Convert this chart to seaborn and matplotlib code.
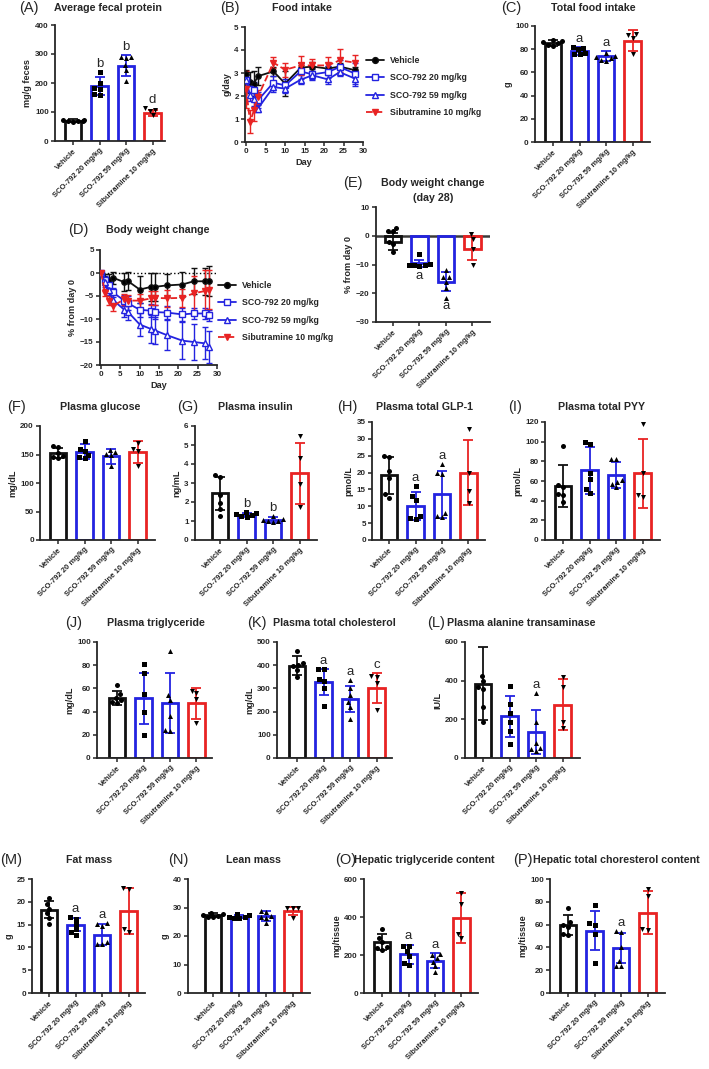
import numpy as np
import pandas as pd
import matplotlib
matplotlib.use("Agg")
import matplotlib.pyplot as plt
import seaborn as sns
from matplotlib.lines import Line2D

W, H, DPI = 709, 1069, 100

groups = ["Vehicle", "SCO-792 20 mg/kg", "SCO-792 59 mg/kg", "Sibutramine 10 mg/kg"]
colors = ["#111111", "#2323E0", "#2323E0", "#E82323"]
markers = ["o", "s", "^", "v"]

# (A) Average fecal protein
fecal_mean = [70, 188, 260, 96]
fecal_sd = [5, 31, 35, 10]
fecal_pts = [[65, 72, 70, 68, 73, 70], [239, 200, 182, 178, 162, 160],
             [288, 289, 286, 262, 245, 207], [113, 108, 105, 90]]
fecal_letters = ["", "b", "b", "d"]

# (B) Food intake
fi_days = [0, 1, 2, 3, 7, 10, 14, 17, 21, 24, 28]
veh_fi = [2.94, 2.6, 2.54, 2.86, 3.07, 2.54, 3.23, 3.28, 3.19, 3.28, 3.12]
veh_fi_sd = [0.2, 0.45, 0.55, 0.4, 0.2, 0.55, 0.2, 0.2, 0.1, 0.15, 0.15]
s20_fi = [2.71, 2.32, 2.25, 1.81, 2.58, 2.46, 3.07, 2.94, 3.04, 3.26, 2.97]
s20_fi_sd = [0.2, 0.35, 0.35, 0.35, 0.3, 0.3, 0.35, 0.25, 0.25, 0.3, 0.45]
s59_fi = [2.7, 2.03, 1.87, 1.45, 2.39, 2.32, 2.71, 2.9, 2.72, 3.04, 2.75]
s59_fi_sd = [0.2, 0.25, 0.3, 0.15, 0.2, 0.2, 0.2, 0.15, 0.2, 0.15, 0.3]
sib_fi = [2.3, 0.87, 1.38, 1.96, 3.45, 3.14, 3.33, 3.33, 3.33, 3.55, 3.45]
sib_fi_sd = [0.8, 0.5, 0.45, 0.3, 0.25, 0.3, 0.4, 0.3, 0.35, 0.5, 0.35]

# (C) Total food intake
tfi_mean = [85.5, 78.5, 74, 87.5]
tfi_sd = [2.5, 3.5, 4.5, 9]
tfi_pts = [[88, 87, 86, 85, 84, 83], [82, 81, 80, 77, 76, 76],
           [77, 74, 73, 72, 71, 70], [93, 92, 90, 76]]
tfi_letters = ["", "a", "a", ""]

# (D) Body weight change
bw_days = [0, 1, 2, 3, 6, 7, 10, 13, 14, 17, 21, 24, 27, 28]
veh_bw = [0, -1.2, -1.6, -1.0, -2.0, -1.8, -3.6, -3.0, -3.0, -2.7, -2.5, -1.8, -1.8, -1.7]
veh_bw_sd = [0, 1.0, 1.3, 1.3, 2.0, 2.0, 3.0, 3.1, 3.1, 2.5, 2.8, 2.8, 2.9, 3.3]
s20_bw = [0, -1.5, -2.6, -4.2, -6.0, -6.6, -8.0, -8.2, -8.5, -8.6, -9.0, -8.8, -8.8, -9.2]
s20_bw_sd = [0, 0.8, 1.0, 1.0, 1.2, 1.5, 1.5, 1.4, 1.5, 1.4, 1.5, 1.3, 1.3, 1.2]
s59_bw = [0, -2.0, -3.6, -5.8, -8.0, -8.5, -11.2, -12.2, -12.5, -13.5, -14.7, -15.0, -15.3, -16.0]
s59_bw_sd = [0, 1.0, 1.2, 1.2, 1.5, 1.7, 2.5, 3.0, 3.0, 3.2, 4.0, 4.0, 3.5, 3.5]
sib_bw = [0, -4.3, -6.0, -7.2, -5.7, -6.0, -6.0, -5.5, -5.4, -5.5, -5.4, -4.4, -3.9, -3.6]
sib_bw_sd = [0, 0.8, 1.0, 1.0, 1.2, 1.2, 1.5, 1.5, 1.5, 1.8, 2.0, 3.8, 4.5, 4.2]

# (E) Body weight change day 28
bw28_mean = [-2, -9.6, -16, -4.5]
bw28_sd = [3, 1.3, 3.3, 4]
bw28_pts = [[2.8, 1.8, 1.5, -2, -3, -5.8], [-6.5, -9.8, -10, -10.2, -10.3, -10.5],
            [-12, -14.5, -14.5, -16, -18, -21.5], [0.7, -1, -4.5, -10]]
bw28_letters = ["", "a", "a", ""]

# (F) Plasma glucose
glu_mean = [152, 155, 147, 154]
glu_sd = [9, 13, 13, 19]
glu_pts = [[165, 163, 152, 145, 143, 147], [174, 160, 157, 150, 145, 143],
           [158, 155, 151, 149, 130], [170, 160, 157, 130]]

# (G) Plasma insulin
ins_mean = [2.45, 1.32, 1.07, 3.52]
ins_sd = [0.85, 0.12, 0.15, 1.6]
ins_pts = [[3.4, 3.3, 2.35, 1.95, 1.65, 1.28], [1.48, 1.42, 1.35, 1.3, 1.25, 1.22],
           [1.28, 1.12, 1.05, 1.0, 0.98, 0.95], [5.45, 4.3, 2.95, 1.75]]
ins_letters = ["", "b", "b", ""]

# (H) Plasma total GLP-1
glp_mean = [19.2, 10, 13.6, 20]
glp_sd = [5.5, 4.2, 7, 9.7]
glp_pts = [[25, 24.7, 20.5, 18.5, 13.5, 12.5], [16, 13, 12, 7, 6.5, 6.3],
           [22.5, 20, 19.5, 8, 7, 6.8], [33, 20, 14.5, 11]]
glp_letters = ["", "a", "a", ""]

# (I) Plasma total PYY
pyy_mean = [55, 71, 66, 68]
pyy_sd = [21, 24, 13, 35]
pyy_pts = [[96, 56, 54, 47, 46, 39], [100, 98, 68, 62, 52, 48],
           [82, 82, 61, 59, 57, 54], [118, 68, 46, 44]]

# (J) Plasma triglyceride
tg_mean = [52, 51.5, 47.5, 47]
tg_sd = [6, 22, 26, 13]
tg_pts = [[63, 55, 52, 50, 48, 47], [81, 73, 55, 40, 20],
          [92, 54, 50, 36, 24, 23], [58, 56, 51, 30]]

# (K) Plasma total cholesterol
tc_mean = [398, 328, 255, 302]
tc_sd = [40, 55, 55, 65]
tc_pts = [[460, 410, 402, 395, 380, 350], [385, 382, 340, 330, 300, 225],
          [335, 300, 270, 240, 220, 170], [352, 350, 325, 208]]
tc_letters = ["", "a", "a", "c"]

# (L) Plasma ALT
alt_mean = [385, 215, 135, 275]
alt_sd = [190, 105, 112, 132]
alt_pts = [[425, 400, 365, 355, 265, 185], [370, 280, 235, 185, 140, 70],
           [338, 187, 78, 54, 45, 35], [418, 369, 184, 153]]
alt_letters = ["", "", "a", ""]

# (M) Fat mass
fat_mean = [18.3, 15, 12.8, 18]
fat_sd = [1.8, 1.5, 2.3, 5.1]
fat_pts = [[20.8, 19.5, 18.5, 17.5, 16.5, 15.2], [16.6, 16.3, 15.2, 14, 13.3, 12.8],
           [15.2, 15.3, 14.8, 11.2, 10.8, 10.8], [23, 22.8, 14, 13.3]]
fat_letters = ["", "a", "a", ""]

# (N) Lean mass
lean_mean = [27.3, 26.8, 26.9, 28.8]
lean_sd = [0.8, 0.6, 1.8, 1.5]
lean_pts = [[28.2, 27.8, 27.2, 27, 26.6, 26.8], [27.8, 27.2, 26.8, 26.5, 26.2, 26.4],
            [28.6, 28.3, 27.1, 26.5, 24.5, 26.4], [30, 29.9, 29.7, 26.3]]

# (O) Hepatic triglyceride
htg_mean = [268, 205, 170, 395]
htg_sd = [40, 50, 38, 130]
htg_pts = [[335, 290, 268, 240, 235, 228], [250, 245, 220, 195, 160, 150],
           [205, 200, 185, 165, 140, 110], [525, 470, 310, 290]]
htg_letters = ["", "a", "a", ""]

# (P) Hepatic total cholesterol
htc_mean = [59.5, 54.5, 39.5, 70.5]
htc_sd = [9, 17, 13.5, 19]
htc_pts = [[74.5, 62, 60, 58, 52, 51], [77.5, 61, 60, 52, 26],
           [54, 53.5, 40, 28, 24, 24], [91, 85, 56, 55]]
htc_letters = ["", "", "a", ""]

sns.set_style("ticks")
plt.rcParams["font.family"] = ["Liberation Sans", "DejaVu Sans"]
plt.rcParams["axes.linewidth"] = 1.3

fig = plt.figure(figsize=(W / DPI, H / DPI), dpi=DPI)

TICK_FS = 5.8
XT_FS = 5.5
LAB_FS = 6.6
TITLE_FS = 7.7
LETTER_FS = 9.5


def add_ax(l, t, r, b):
    return fig.add_axes([l / W, 1 - b / H, (r - l) / W, (b - t) / H])


def style_ax(ax, yticks, ylabel):
    sns.despine(ax=ax)
    ax.set_yticks(yticks)
    ax.set_ylim(yticks[0], yticks[-1])
    ax.tick_params(axis="both", length=3, width=1.1, pad=1.5, labelsize=TICK_FS)
    for lab in ax.get_yticklabels():
        lab.set_fontweight("bold")
    ax.set_ylabel(ylabel, fontsize=LAB_FS, fontweight="bold", labelpad=2)


def bar_panel(box, first, means, sds, pts, yticks, ylabel, letters=None,
              below=False, zero_line=False):
    l, t, r, b = box
    ax = add_ax(l, t, r, b)
    sp = 26.5
    xl = -(first - l) / sp
    xr = xl + (r - l) / sp
    sns.barplot(x=groups, y=means, hue=groups, order=groups, hue_order=groups,
                palette=colors, fill=False, linewidth=2.0, width=0.64,
                errorbar=None, legend=False, ax=ax, zorder=2)
    for i in range(4):
        ax.errorbar(i, means[i], yerr=sds[i], fmt="none", ecolor=colors[i],
                    elinewidth=1.3, capsize=3.5, capthick=1.3, zorder=3)
    for i in range(4):
        df = pd.DataFrame({"g": [groups[i]] * len(pts[i]), "v": pts[i]})
        sns.swarmplot(data=df, x="g", y="v", order=groups, marker=markers[i],
                      color="black", size=3.6, ax=ax, zorder=4, warn_thresh=1)
    if zero_line:
        ax.axhline(0, color="#3a3a3a", lw=1.8, zorder=1)
    ax.set_xlim(xl, xr)
    style_ax(ax, yticks, ylabel)
    ax.set_xlabel("")
    ax.set_xticks(range(4))
    ax.set_xticklabels(groups, rotation=45, ha="right", va="top",
                       rotation_mode="anchor", fontsize=XT_FS, fontweight="bold")
    if letters:
        for i, let in enumerate(letters):
            if not let:
                continue
            if below:
                y = min(means[i] - sds[i], min(pts[i]))
                ax.annotate(let, (i, y), xytext=(0, -2), textcoords="offset points",
                            ha="center", va="top", fontsize=LETTER_FS)
            else:
                y = max(means[i] + sds[i], max(pts[i]))
                ax.annotate(let, (i, y), xytext=(0, 1.5), textcoords="offset points",
                            ha="center", va="bottom", fontsize=LETTER_FS)
    return ax


def line_panel(box, days, series, sds, yticks, ylabel, legend_xy, zero_line=False):
    l, t, r, b = box
    ax = add_ax(l, t, r, b)
    styles = [("-", "black"), ("-", "white"), ("-", "white"), ("--", colors[3])]
    order = [3, 1, 2, 0]
    for i in order:
        ls, fc = styles[i]
        ax.errorbar(days, series[i], yerr=sds[i], fmt="none", ecolor=colors[i],
                    elinewidth=1.0, capsize=2.3, capthick=1.0, zorder=2 + i * 0.1)
        sns.lineplot(x=days, y=series[i], ax=ax, color=colors[i], linestyle=ls,
                     linewidth=1.3, marker=markers[i], markersize=4.2 if i else 3.8,
                     markerfacecolor=fc, markeredgecolor=colors[i],
                     markeredgewidth=1.0, zorder=3 + i * 0.1, legend=False)
    if zero_line:
        ax.axhline(0, color="black", ls=":", lw=1.0, zorder=1)
    ax.set_xlim(-0.3, 30)
    ax.set_xticks([0, 5, 10, 15, 20, 25, 30])
    style_ax(ax, yticks, ylabel)
    for lab in ax.get_xticklabels():
        lab.set_fontweight("bold")
    ax.set_xlabel("Day", fontsize=LAB_FS, fontweight="bold", labelpad=2)
    handles = []
    for i in range(4):
        ls, fc = styles[i]
        handles.append(Line2D([0], [0], color=colors[i], ls=ls, lw=1.3, marker=markers[i],
                              markersize=4.2, markerfacecolor=fc, markeredgecolor=colors[i]))
    ax.legend(handles, groups, loc="upper left",
              bbox_to_anchor=(legend_xy[0] / W, 1 - legend_xy[1] / H),
              bbox_transform=fig.transFigure, frameon=False,
              prop={"weight": "bold", "size": 6.3}, handlelength=2.0,
              handletextpad=0.7, labelspacing=0.95, borderpad=0, borderaxespad=0)
    return ax


def title(letter, lx, text, tx, y, align="center"):
    fig.text(lx / W, 1 - y / H, letter, fontsize=10.5, ha="left", va="center")
    fig.text(tx / W, 1 - y / H, text, fontsize=TITLE_FS, fontweight="bold",
             ha=align, va="center")


# Row 1
bar_panel((55, 25, 165, 141), 73, fecal_mean, fecal_sd, fecal_pts,
          [0, 100, 200, 300, 400], "mg/g feces", fecal_letters)
title("(A)", 19, "Average fecal protein", 108, 8)

line_panel((245, 27, 363, 142), fi_days, [veh_fi, s20_fi, s59_fi, sib_fi],
           [veh_fi_sd, s20_fi_sd, s59_fi_sd, sib_fi_sd], [0, 1, 2, 3, 4, 5],
           "g/day", (366, 56))
title("(B)", 220, "Food intake", 302, 8)

bar_panel((535, 26, 650, 142), 553, tfi_mean, tfi_sd, tfi_pts,
          [0, 20, 40, 60, 80, 100], "g", tfi_letters)
title("(C)", 501, "Total food intake", 593, 8)

# Row 2
line_panel((100, 250, 217, 365), bw_days, [veh_bw, s20_bw, s59_bw, sib_bw],
           [veh_bw_sd, s20_bw_sd, s59_bw_sd, sib_bw_sd], [-20, -15, -10, -5, 0, 5],
           "% from day 0", (218, 281), zero_line=True)
title("(D)", 68, "Body weight change", 158, 230)

bar_panel((376, 207, 490, 322), 393, bw28_mean, bw28_sd, bw28_pts,
          [-30, -20, -10, 0, 10], "% from day 0", bw28_letters, below=True, zero_line=True)
title("(E)", 343, "Body weight change", 433, 183)
fig.text(433 / W, 1 - 198 / H, "(day 28)", fontsize=TITLE_FS, fontweight="bold",
         ha="center", va="center")

# Row 3
bar_panel((40, 426, 155, 540), 58, glu_mean, glu_sd, glu_pts,
          [0, 50, 100, 150, 200], "mg/dL")
title("(F)", 7, "Plasma glucose", 100, 407)

bar_panel((195, 426, 317, 540), 220, ins_mean, ins_sd, ins_pts,
          [0, 1, 2, 3, 4, 5, 6], "ng/mL", ins_letters)
title("(G)", 177, "Plasma insulin", 255, 407)

bar_panel((372, 422, 485, 540), 389, glp_mean, glp_sd, glp_pts,
          [0, 5, 10, 15, 20, 25, 30, 35], "pmol/L", glp_letters)
title("(H)", 337, "Plasma total GLP-1", 425, 407)

bar_panel((545, 422, 660, 540), 563, pyy_mean, pyy_sd, pyy_pts,
          [0, 20, 40, 60, 80, 100, 120], "pmol/L")
title("(I)", 508, "Plasma total PYY", 602, 407)

# Row 4
bar_panel((97, 642, 212, 758), 117, tg_mean, tg_sd, tg_pts,
          [0, 20, 40, 60, 80, 100], "mg/dL")
title("(J)", 65, "Plasma triglyceride", 156, 623)

bar_panel((277, 642, 392, 758), 297, tc_mean, tc_sd, tc_pts,
          [0, 100, 200, 300, 400, 500], "mg/dL", tc_letters)
title("(K)", 247, "Plasma total cholesterol", 273, 623, align="left")

bar_panel((465, 642, 580, 758), 483, alt_mean, alt_sd, alt_pts,
          [0, 200, 400, 600], "IU/L", alt_letters)
title("(L)", 427, "Plasma alanine transaminase", 447, 623, align="left")

# Row 5
bar_panel((32, 879, 145, 993), 49, fat_mean, fat_sd, fat_pts,
          [0, 5, 10, 15, 20, 25], "g", fat_letters)
title("(M)", 0, "Fat mass", 89, 860)

bar_panel((188, 879, 310, 993), 213, lean_mean, lean_sd, lean_pts,
          [0, 10, 20, 30, 40], "g")
title("(N)", 168, "Lean mass", 253, 860)

bar_panel((364, 879, 478, 993), 382, htg_mean, htg_sd, htg_pts,
          [0, 200, 400, 600], "mg/tissue", htg_letters)
title("(O)", 335, "Hepatic triglyceride content", 354, 860, align="left")

bar_panel((550, 879, 665, 993), 568, htc_mean, htc_sd, htc_pts,
          [0, 20, 40, 60, 80, 100], "mg/tissue", htc_letters)
title("(P)", 513, "Hepatic total choresterol content", 533, 860, align="left")

fig.savefig("out.png", dpi=DPI)
